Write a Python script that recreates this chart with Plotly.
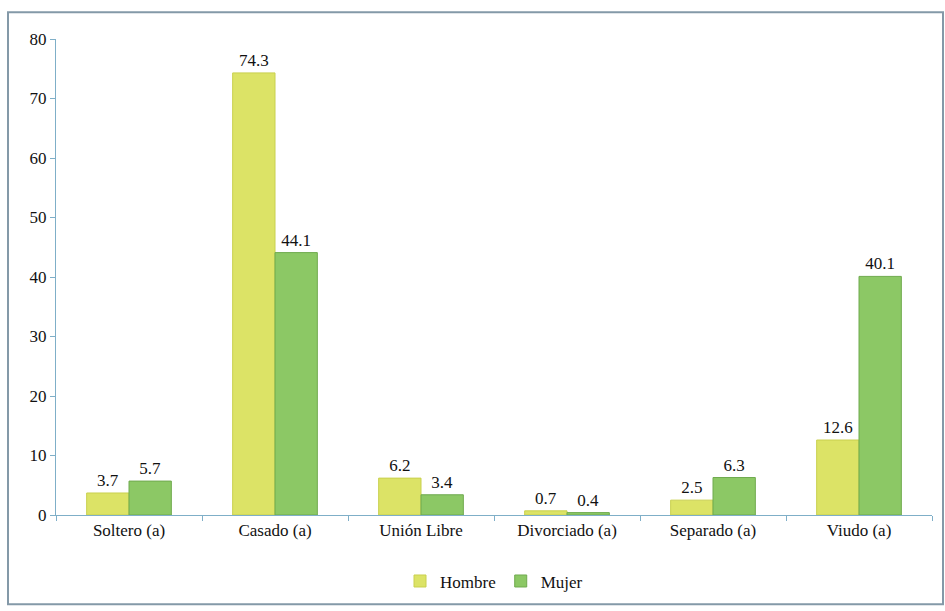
import plotly.graph_objects as go

categories = ["Soltero (a)", "Casado (a)", "Unión Libre", "Divorciado (a)", "Separado (a)", "Viudo (a)"]
hombre = [3.7, 74.3, 6.2, 0.7, 2.5, 12.6]
mujer = [5.7, 44.1, 3.4, 0.4, 6.3, 40.1]
y_ticks = [0, 10, 20, 30, 40, 50, 60, 70, 80]

FONT = "Times New Roman, DejaVu Serif, serif"

fig = go.Figure()
fig.add_trace(go.Bar(
    name="Hombre", x=categories, y=hombre,
    marker=dict(color="#DCE366", line=dict(color="#C9D04E", width=1)),
    text=[f"{v:.1f}" for v in hombre], textposition="outside",
    textfont=dict(family=FONT, size=17, color="#111"), cliponaxis=False,
))
fig.add_trace(go.Bar(
    name="Mujer", x=categories, y=mujer,
    marker=dict(color="#8CC865", line=dict(color="#6FAA4E", width=1)),
    text=[f"{v:.1f}" for v in mujer], textposition="outside",
    textfont=dict(family=FONT, size=17, color="#111"), cliponaxis=False,
))

W, H = 945, 611
ml, mr, mt, mb = 56, 13, 39, 92
pw, ph = W - ml - mr, H - mt - mb

def px(x):
    return (x - ml) / pw

def py(y):
    return 1 - (y - mt) / ph

fig.add_shape(type="rect", xref="paper", yref="paper",
              x0=px(8), x1=px(943), y0=py(609), y1=py(12),
              line=dict(color="#8499A8", width=2), fillcolor="rgba(0,0,0,0)", layer="below")

fig.update_layout(
    width=W, height=H,
    margin=dict(l=ml, r=mr, t=mt, b=mb),
    paper_bgcolor="white", plot_bgcolor="white",
    barmode="group", bargap=0.42, bargroupgap=0,
    font=dict(family=FONT, size=17, color="#111"),
    uniformtext=dict(mode="show", minsize=17),
    showlegend=True,
    legend=dict(orientation="h", x=0.5, xanchor="center", y=py(586), yanchor="middle",
                font=dict(family=FONT, size=17), itemwidth=30, tracegroupgap=0),
    xaxis=dict(showline=True, linecolor="#7FAFC8", linewidth=1, ticks="outside",
               tickson="boundaries", tickcolor="#7FAFC8", ticklen=5,
               tickfont=dict(family=FONT, size=17, color="#111"), showgrid=False),
    yaxis=dict(range=[0, 80], tickvals=y_ticks, showline=True, linecolor="#7FAFC8",
               linewidth=1, ticks="outside", tickcolor="#7FAFC8", ticklen=5,
               tickfont=dict(family=FONT, size=17, color="#111"), showgrid=False,
               zeroline=False),
)

fig.write_html("out.html")
